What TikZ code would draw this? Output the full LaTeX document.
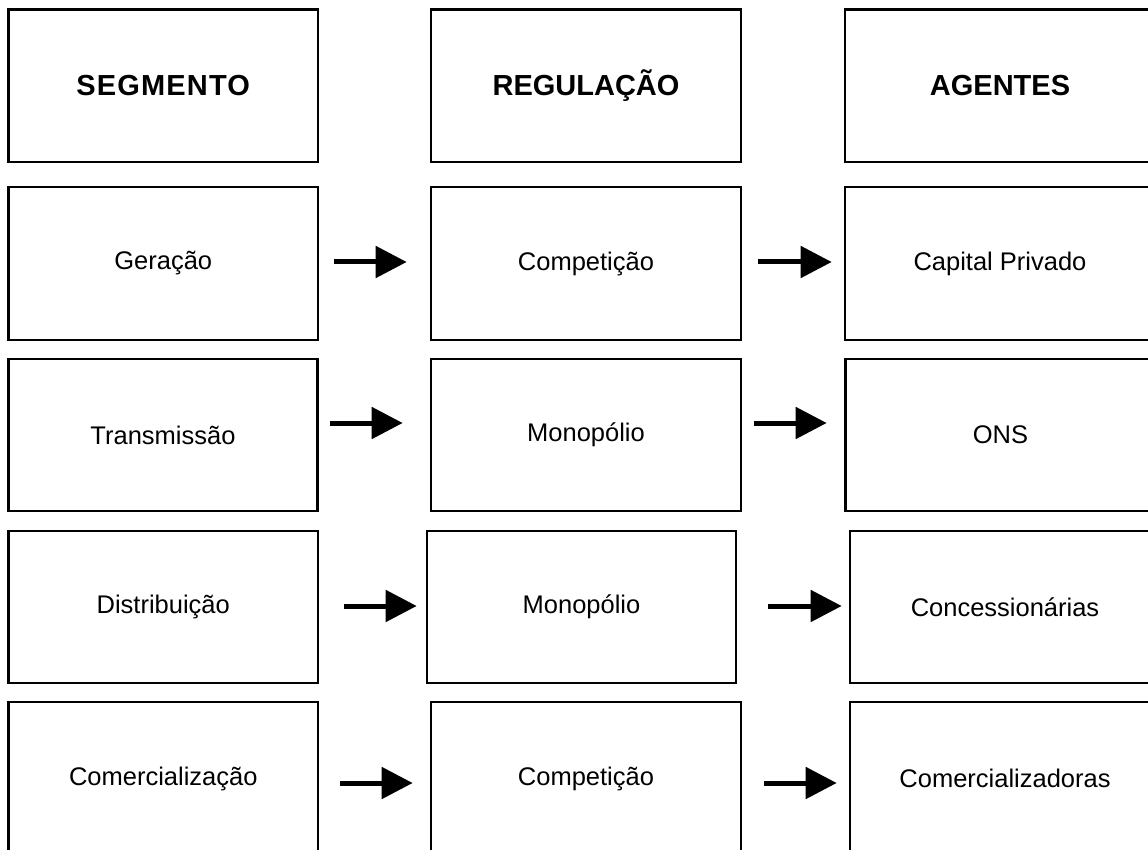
\documentclass[tikz,border=0pt]{standalone}
\usepackage{fontspec}
\setmainfont{Liberation Sans}
\usetikzlibrary{arrows.meta,calc}
\tikzset{
  cellbox/.style={draw=black, line width=2.6pt, rectangle, inner sep=0pt,
    font=\fontsize{25.5}{30}\selectfont},
  headbox/.style={cellbox, font=\fontsize{29}{34}\selectfont\bfseries},
  arr/.style={draw=black, line width=5pt, -{Triangle[length=31pt,width=31pt]}}
}
\begin{document}
\begin{tikzpicture}[x=1pt,y=-1pt]
\useasboundingbox (0,0) rectangle (1148,850);
\clip (0,0) rectangle (1148,850);
% header row
\node[headbox, minimum width=309.5pt, minimum height=152.5pt] (hs) at (163.25,85.75) {\addfontfeature{LetterSpace=4}SEGMENTO};
\node[headbox, minimum width=310pt, minimum height=152.5pt] (hr) at (586,85.75) {REGULAÇÃO};
\node[headbox, minimum width=310pt, minimum height=152.5pt] (ha) at (1000,85.75) {AGENTES};
% row 2
\node[cellbox, minimum width=309.5pt, minimum height=153pt] (s1) at (163.25,263.5) {Geração};
\node[cellbox, minimum width=310pt, minimum height=153pt] (r1) at (586,263.5) {Competição};
\node[cellbox, minimum width=310pt, minimum height=153pt] (a1) at (1000,263.5) {Capital Privado};
% row 3
\node[cellbox, minimum width=309pt, minimum height=152pt] (s2) at (163,435) {Transmissão};
\node[cellbox, minimum width=310pt, minimum height=152pt] (r2) at (586,435) {Monopólio};
\node[cellbox, minimum width=310pt, minimum height=152pt] (a2) at (1000.5,435) {ONS};
% row 4
\node[cellbox, minimum width=309.5pt, minimum height=152pt] (s3) at (163.25,607) {Distribuição};
\node[cellbox, minimum width=309pt, minimum height=152pt] (r3) at (581.5,607) {Monopólio};
\node[cellbox, minimum width=310pt, minimum height=152pt] (a3) at (1005,607) {Concessionárias};
% row 5
\node[cellbox, minimum width=309.5pt, minimum height=153pt] (s4) at (163.25,778.5) {Comercialização};
\node[cellbox, minimum width=310pt, minimum height=153pt] (r4) at (586,778.5) {Competição};
\node[cellbox, minimum width=310pt, minimum height=153pt] (a4) at (1005,778.5) {Comercializadoras};
% arrows
\draw[arr] ($(s1.east)+(15,-1.5)$) -- ($(r1.west)+(-23,-1.5)$);
\draw[arr] ($(r1.east)+(16,-1.5)$) -- ($(a1.west)+(-12,-1.5)$);
\draw[arr] ($(s2.east)+(11.5,-12)$) -- ($(r2.west)+(-27,-12)$);
\draw[arr] ($(r2.east)+(12,-12)$) -- ($(a2.west)+(-17.5,-12)$);
\draw[arr] ($(s3.east)+(25,-1)$) -- ($(r3.west)+(-9,-1)$);
\draw[arr] ($(r3.east)+(31,-1)$) -- ($(a3.west)+(-7,-1)$);
\draw[arr] ($(s4.east)+(21,4.5)$) -- ($(r4.west)+(-17,4.5)$);
\draw[arr] ($(r4.east)+(22,4.5)$) -- ($(a4.west)+(-12,4.5)$);
\end{tikzpicture}
\end{document}
